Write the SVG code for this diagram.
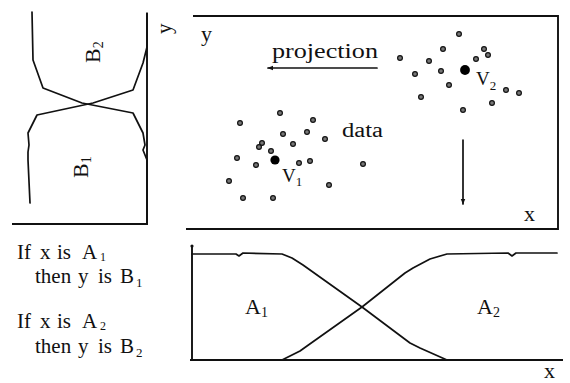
<svg xmlns="http://www.w3.org/2000/svg" width="570" height="383" viewBox="0 0 570 383">
<style>
.ln{fill:none;stroke:#111;stroke-width:1.7;stroke-linejoin:round;stroke-linecap:round}
.ax{fill:none;stroke:#111;stroke-width:1.9}
.t{font-family:"Liberation Serif","Times New Roman",serif;fill:#111}
.dot{fill:#777;stroke:#111;stroke-width:1.2}
.big{fill:#000}
</style>
<defs>
<marker id="ah" viewBox="0 0 10 10" refX="9" refY="5" markerWidth="6" markerHeight="6" orient="auto" markerUnits="userSpaceOnUse">
<path d="M0,1 L10,5 L0,9 Z" fill="#111"/>
</marker>
</defs>
<rect width="570" height="383" fill="#ffffff"/>

<g id="left-panel">
<path class="ax" d="M147,13 L147,224 L12,224"/>
<path class="ln" d="M32,12 L33,60 L43,88 L82,103 L133,113 L143,133 L145,145 L143,150 L147,160 L147,224"/>
<path class="ln" d="M147,13 L147,47 L143,63 L133,90 L93,103 L37,115 L28,133 L29,145 L28,152 L28,160 L30,203"/>
<text class="t" font-size="22" transform="translate(100,63) rotate(-90)">B<tspan font-size="14" dy="3">2</tspan></text>
<text class="t" font-size="22" transform="translate(88,178) rotate(-90)">B<tspan font-size="14" dy="3">1</tspan></text>
<text class="t" font-size="21" transform="translate(171,34) rotate(-90)">y</text>
</g>

<g id="scatter-box">
<path class="ax" d="M193,16 L558,16 L558,229 L186,229"/>
<text class="t" font-size="22" x="201" y="41">y</text>
<text class="t" font-size="22" x="524" y="221">x</text>
<text class="t" font-size="22" x="272" y="58" textLength="106" lengthAdjust="spacingAndGlyphs">projection</text>
<text class="t" font-size="20" x="342" y="137" textLength="41" lengthAdjust="spacingAndGlyphs">data</text>
</g>

<g id="data-points">
<circle class="dot" cx="280" cy="113" r="2.4"/>
<circle class="dot" cx="240" cy="123" r="2.4"/>
<circle class="dot" cx="313" cy="120" r="2.4"/>
<circle class="dot" cx="307" cy="132" r="2.4"/>
<circle class="dot" cx="283" cy="134" r="2.4"/>
<circle class="dot" cx="325" cy="139" r="2.4"/>
<circle class="dot" cx="262" cy="143" r="2.4"/>
<circle class="dot" cx="259" cy="147" r="2.4"/>
<circle class="dot" cx="293" cy="144" r="2.4"/>
<circle class="dot" cx="271" cy="151" r="2.4"/>
<circle class="dot" cx="237" cy="158" r="2.4"/>
<circle class="dot" cx="256" cy="165" r="2.4"/>
<circle class="dot" cx="299" cy="163" r="2.4"/>
<circle class="dot" cx="310" cy="161" r="2.4"/>
<circle class="dot" cx="363" cy="164" r="2.4"/>
<circle class="dot" cx="229" cy="181" r="2.4"/>
<circle class="dot" cx="329" cy="185" r="2.4"/>
<circle class="dot" cx="243" cy="198" r="2.4"/>
<circle class="dot" cx="273" cy="198" r="2.4"/>
<circle class="dot" cx="459" cy="34" r="2.4"/>
<circle class="dot" cx="443" cy="49" r="2.4"/>
<circle class="dot" cx="484" cy="49" r="2.4"/>
<circle class="dot" cx="488" cy="55" r="2.4"/>
<circle class="dot" cx="400" cy="58" r="2.4"/>
<circle class="dot" cx="429" cy="61" r="2.4"/>
<circle class="dot" cx="476" cy="59" r="2.4"/>
<circle class="dot" cx="441" cy="71" r="2.4"/>
<circle class="dot" cx="415" cy="74" r="2.4"/>
<circle class="dot" cx="449" cy="85" r="2.4"/>
<circle class="dot" cx="506" cy="90" r="2.4"/>
<circle class="dot" cx="519" cy="93" r="2.4"/>
<circle class="dot" cx="421" cy="97" r="2.4"/>
<circle class="dot" cx="492" cy="103" r="2.4"/>
<circle class="dot" cx="463" cy="110" r="2.4"/>
</g>

<g id="v1">
<circle class="big" cx="275" cy="160" r="4.6"/>
<text class="t" font-size="19" x="282" y="182">V<tspan font-size="13" dy="4">1</tspan></text>
</g>

<g id="v2">
<circle class="big" cx="465" cy="70" r="4.9"/>
<text class="t" font-size="19" x="476" y="85">V<tspan font-size="13" dy="5">2</tspan></text>
</g>

<g id="connectors">
<line class="ln" x1="377" y1="68" x2="268" y2="68" marker-end="url(#ah)"/>
<line class="ln" x1="463" y1="140" x2="463" y2="204" marker-end="url(#ah)"/>
</g>

<g id="rules">
<text class="t" font-size="21" y="259"><tspan x="17">If</tspan><tspan x="40">x</tspan><tspan x="57">is</tspan><tspan x="82">A</tspan><tspan x="100" y="261" font-size="12">1</tspan></text>
<text class="t" font-size="21" y="283"><tspan x="35">then</tspan><tspan x="78">y</tspan><tspan x="98">is</tspan><tspan x="120">B</tspan><tspan x="136" y="287" font-size="13">1</tspan></text>
<text class="t" font-size="21" y="328"><tspan x="17">If</tspan><tspan x="40">x</tspan><tspan x="57">is</tspan><tspan x="82">A</tspan><tspan x="100" y="330" font-size="12">2</tspan></text>
<text class="t" font-size="21" y="353"><tspan x="35">then</tspan><tspan x="78">y</tspan><tspan x="98">is</tspan><tspan x="120">B</tspan><tspan x="136" y="357" font-size="13">2</tspan></text>
</g>

<g id="bottom-panel">
<path class="ax" d="M192,245 L192,360 M190,360 L563,360"/>
<circle cx="192" cy="246" r="1.6" fill="#111"/>
<path class="ln" d="M192,254 L236,254 L239,256 L243,253 L282,254 L292,258 L303,265 L362,307 L410,343 L420,348 L447,360"/>
<path class="ln" d="M192,360 L282,360 L300,351 L307,346 L362,307 L405,273 L413,268 L430,259 L447,254 L508,253 L512,256 L516,253 L557,253"/>
<text class="t" font-size="22" x="245" y="314">A<tspan font-size="14" dy="3">1</tspan></text>
<text class="t" font-size="22" x="477" y="314">A<tspan font-size="14" dy="3">2</tspan></text>
<text class="t" font-size="22" x="544" y="378">x</text>
</g>
</svg>
